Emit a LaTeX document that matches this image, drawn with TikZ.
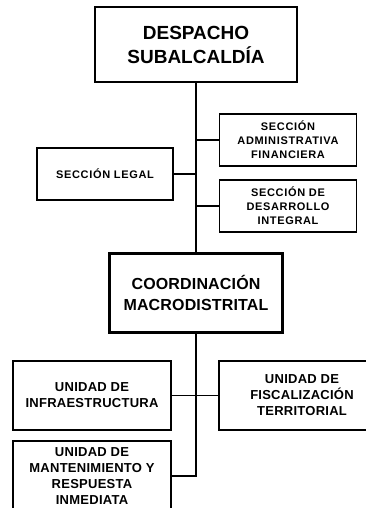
\documentclass[tikz,border=0pt]{standalone}
\usepackage{fontspec}
\setmainfont{Liberation Sans}
\newfontfamily\secfont[LetterSpace=6]{Liberation Sans}
\newfontfamily\unifont[LetterSpace=2]{Liberation Sans}
\newfontfamily\coordfont[LetterSpace=1]{Liberation Sans}
\usetikzlibrary{calc}

\tikzset{
	headbox/.style={draw, line width=2.3pt, align=center, inner sep=0pt},
	secbox/.style={draw, line width=1.3pt, align=center, inner sep=0pt, minimum width=137, minimum height=52, font=\secfont\bfseries\fontsize{11}{14}\selectfont},
	unibox/.style={draw, line width=1.3pt, align=center, inner sep=0pt, minimum height=69, font=\unifont\bfseries\fontsize{13}{16}\selectfont},
	link/.style={line width=1.3pt}
}

\begin{document}
\begin{tikzpicture}[x=1pt, y=-1pt]
		%%%%% START %%%%%
		\clip (0, 0) rectangle (366, 508);
		
		\node[headbox, minimum width=202, minimum height=75, font=\bfseries\fontsize{19}{24}\selectfont] (despacho) at (196, 44.5) {DESPACHO\\SUBALCALDÍA};
		
		\node[secbox] (admin) at (288, 140) {SECCIÓN\\ADMINISTRATIVA\\FINANCIERA};
		\node[secbox, minimum width=136] (legal) at (105, 174) {SECCIÓN LEGAL};
		\node[secbox] (desarrollo) at (288, 206) {SECCIÓN DE\\DESARROLLO\\INTEGRAL};
		
		\node[headbox, minimum width=173, minimum height=79, font=\coordfont\bfseries\fontsize{16}{21}\selectfont] (coord) at (196, 293) {COORDINACIÓN\\MACRODISTRITAL};
		
		\node[unibox, minimum width=158] (infra) at (92, 395.5) {UNIDAD DE\\INFRAESTRUCTURA};
		\node[unibox, minimum width=166] (fiscal) at (302, 395.5) {UNIDAD DE\\FISCALIZACIÓN\\TERRITORIAL};
		\node[unibox, minimum width=158, minimum height=70] (mant) at (92, 476) {UNIDAD DE\\MANTENIMIENTO Y\\RESPUESTA\\INMEDIATA};
		
		\draw[link] (despacho.south) -- (coord.north);
		\draw[link] (admin.west) -- (admin.west -| despacho.south);
		\draw[link] (legal.east) -- (legal.east -| despacho.south);
		\draw[link] (desarrollo.west) -- (desarrollo.west -| despacho.south);
		
		\draw[link] (infra.east) -- (fiscal.west);
		\draw[link] (coord.south) |- (mant.east);
		
		%%%%% END %%%%%
\end{tikzpicture}
\end{document}
